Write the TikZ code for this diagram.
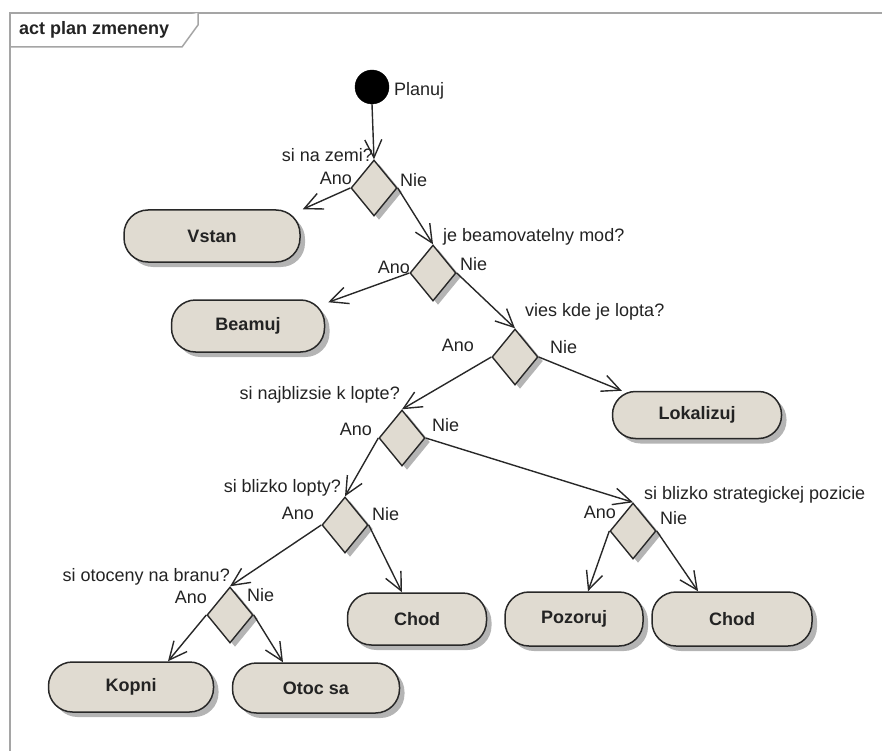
\documentclass[tikz,border=0pt]{standalone}
\usepackage{fontspec}
\setmainfont{Liberation Sans}
\usetikzlibrary{shapes.geometric,arrows.meta,shadows,calc}
\definecolor{nodefill}{RGB}{224,219,209}
\definecolor{linec}{RGB}{40,40,40}
\definecolor{textc}{RGB}{35,35,35}
\definecolor{framec}{RGB}{165,165,165}
\definecolor{shadowc}{RGB}{180,180,180}
\begin{document}
\begin{tikzpicture}[x=1pt,y=-1pt,
  action/.style={draw=linec, line width=1.5pt, fill=nodefill, rounded corners=24pt,
    inner sep=0pt, text=textc, font=\fontsize{18}{20}\selectfont\bfseries,
    drop shadow={shadow xshift=5pt, shadow yshift=-5pt, fill=shadowc, opacity=1}},
  decision/.style={diamond, draw=linec, line width=1.4pt, fill=nodefill, inner sep=0pt,
    minimum width=46pt, minimum height=56pt,
    drop shadow={shadow xshift=5pt, shadow yshift=-4pt, fill=shadowc, opacity=1}},
  lbl/.style={inner sep=0pt, text=textc, font=\fontsize{18}{20}\selectfont},
  flow/.style={draw=linec, line width=1.4pt, -{Straight Barb[length=18pt,width=17pt,line width=1.4pt]}},
  framel/.style={draw=framec, line width=1.5pt}
]
\useasboundingbox (0,0) rectangle (882,751);
% frame
\draw[framel] (10,751) -- (10,13) -- (882,13);
\draw[framel, fill=white] (10,47) -- (182,47) -- (198,25) -- (198,13);
\node[lbl, anchor=west, font=\fontsize{18}{20}\selectfont\bfseries] (title) at (19,30) {act plan zmeneny};

% start
\node[circle, fill=black, draw=black, minimum size=34pt, inner sep=0pt] (start) at (372,87) {};
\node[lbl, anchor=west] (planuj) at (394,91) {Planuj};

% decisions
\node[decision] (d1) at (374,188) {};
\node[decision] (d2) at (433,273) {};
\node[decision] (d3) at (515,357) {};
\node[decision] (d4) at (402,438) {};
\node[decision] (d5) at (345,525) {};
\node[decision] (d6) at (633,531) {};
\node[decision] (d7) at (230,615) {};

% actions
\node[action, minimum width=176pt, minimum height=52pt] (vstan) at (212,236) {Vstan};
\node[action, minimum width=153pt, minimum height=52pt] (beamuj) at (248,326) {Beamuj};
\node[action, minimum width=169pt, minimum height=47pt, rounded corners=23pt] (lok) at (697,415) {Lokalizuj};
\node[action, minimum width=139pt, minimum height=52pt] (chod1) at (417,619) {Chod};
\node[action, minimum width=138pt, minimum height=54pt] (poz) at (574,619) {Pozoruj};
\node[action, minimum width=160pt, minimum height=54pt] (chod2) at (732,619) {Chod};
\node[action, minimum width=165pt, minimum height=50pt] (kopni) at (131,687) {Kopni};
\node[action, minimum width=167pt, minimum height=50pt] (otoc) at (316,688) {Otoc sa};

% labels
\node[lbl, anchor=east] (q1) at (373,155) {si na zemi?};
\node[lbl, anchor=east] (a1) at (352,178) {Ano};
\node[lbl, anchor=west] (n1) at (400,180) {Nie};
\node[lbl, anchor=west] (q2) at (443,237) {je beamovatelny mod?};
\node[lbl, anchor=east] (a2) at (410,267) {Ano};
\node[lbl, anchor=west] (n2) at (460,264) {Nie};
\node[lbl, anchor=west] (q3) at (525,312) {vies kde je lopta?};
\node[lbl, anchor=east] (a3) at (474,345) {Ano};
\node[lbl, anchor=west] (n3) at (550,347) {Nie};
\node[lbl, anchor=east] (q4) at (400,395) {si najblizsie k lopte?};
\node[lbl, anchor=east] (a4) at (372,429) {Ano};
\node[lbl, anchor=west] (n4) at (432,425) {Nie};
\node[lbl, anchor=east] (q5) at (341,488) {si blizko lopty?};
\node[lbl, anchor=east] (a5) at (314,513) {Ano};
\node[lbl, anchor=west] (n5) at (372,514) {Nie};
\node[lbl, anchor=west] (q6) at (644,495) {si blizko strategickej pozicie};
\node[lbl, anchor=east] (a6) at (616,512) {Ano};
\node[lbl, anchor=west] (n6) at (660,518) {Nie};
\node[lbl, anchor=east] (q7) at (230,577) {si otoceny na branu?};
\node[lbl, anchor=east] (a7) at (207,597) {Ano};
\node[lbl, anchor=west] (n7) at (247,595) {Nie};

% flows
\draw[flow] (start.south) -- (d1.north);
\draw[flow] (d1.west) -- ($(vstan.north east)+(2,0)$);
\draw[flow] (d1.east) -- (d2.north);
\draw[flow] (d2.west) -- ($(beamuj.north east)+(3,3)$);
\draw[flow] (d2.east) -- (d3.north);
\draw[flow] (d3.east) -- ($(lok.north west)+(10,0)$);
\draw[flow] (d3.west) -- (d4.north);
\draw[flow] (d4.east) -- (d6.north);
\draw[flow] (d4.west) -- (d5.north);
\draw[flow] (d5.east) -- ($(chod1.north)+(-15,0)$);
\draw[flow] (d5.west) -- (d7.north);
\draw[flow] (d7.west) -- ($(kopni.north)+(37,0)$);
\draw[flow] (d7.east) -- ($(otoc.north)+(-33,0)$);
\draw[flow] (d6.west) -- ($(poz.north)+(14,0)$);
\draw[flow] (d6.east) -- ($(chod2.north)+(-34,0)$);
\end{tikzpicture}
\end{document}
